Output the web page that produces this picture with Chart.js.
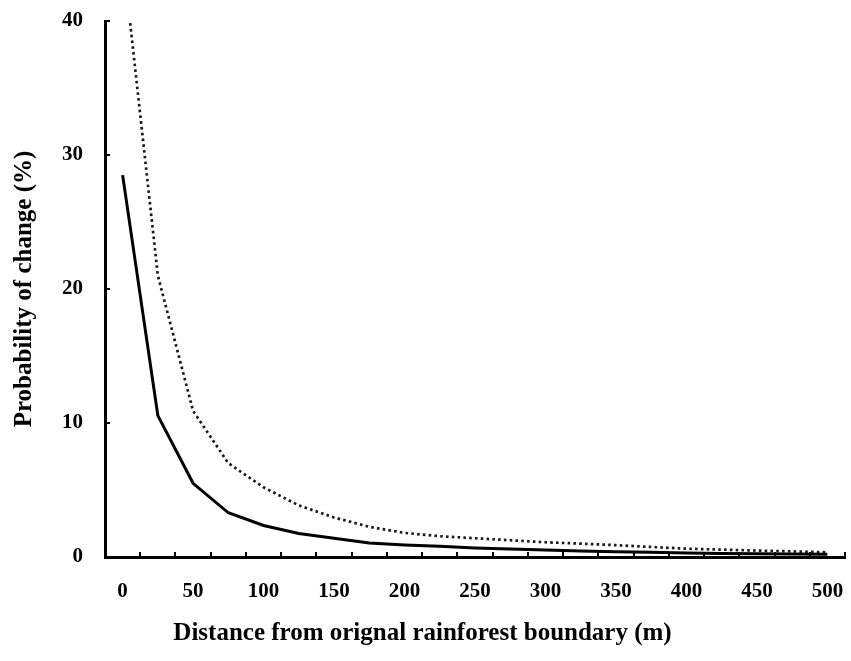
<!DOCTYPE html>
<html>
<head>
<meta charset="utf-8">
<script src="https://cdn.jsdelivr.net/npm/chart.js@4/dist/chart.umd.min.js"></script>
<style>
  html, body { margin: 0; padding: 0; background: #fff; }
  #wrap { width: 851px; height: 661px; }
</style>
</head>
<body>
<div id="wrap"><canvas id="c" width="851" height="661"></canvas></div>
<script>
const distances = [0, 25, 50, 75, 100, 125, 150, 175, 200, 225, 250, 275, 300, 325, 350, 375, 400, 425, 450, 475, 500];
const solidSeries = [28.5, 10.55, 5.5, 3.3, 2.35, 1.75, 1.4, 1.05, 0.9, 0.8, 0.68, 0.6, 0.52, 0.45, 0.4, 0.35, 0.3, 0.27, 0.24, 0.22, 0.2];
const dottedSeries = [45, 21, 10.9, 7.0, 5.2, 3.85, 2.95, 2.25, 1.8, 1.55, 1.4, 1.25, 1.1, 1.0, 0.88, 0.75, 0.62, 0.55, 0.48, 0.42, 0.35];
const yTicks = [0, 10, 20, 30, 40];
const xTitle = 'Distance from orignal rainforest boundary (m)';
const yTitle = 'Probability of change (%)';

const FONT = "'Liberation Serif', 'Times New Roman', serif";

function zeroPad(s) { s.paddingTop = 0; s.paddingBottom = 0; s.paddingLeft = 0; s.paddingRight = 0; }

new Chart(document.getElementById('c'), {
  type: 'line',
  data: {
    labels: distances,
    datasets: [
      { data: solidSeries, borderColor: '#000', borderWidth: 3, pointRadius: 0, tension: 0, fill: false },
      { data: dottedSeries, borderColor: '#1a1a1a', borderWidth: 2.7, borderDash: [2.6, 3.2], pointRadius: 0, tension: 0, fill: false }
    ]
  },
  options: {
    responsive: false,
    animation: false,
    events: [],
    layout: { padding: { top: 21, right: 6, left: 0, bottom: 0 } },
    plugins: {
      legend: { display: false },
      tooltip: { enabled: false },
      title: {
        display: true,
        position: 'bottom',
        text: xTitle,
        color: '#000',
        font: { family: FONT, size: 25, weight: 'bold' },
        padding: { top: 0, bottom: 12 }
      }
    },
    scales: {
      x: {
        type: 'category',
        offset: true,
        grid: { display: true, offset: true, drawOnChartArea: false, drawTicks: true, tickLength: -5, color: '#000', lineWidth: 2 },
        border: { display: true, color: '#000', width: 3 },
        ticks: {
          autoSkip: false, maxRotation: 0, color: '#000', padding: 27,
          font: { family: FONT, size: 21, weight: 'bold' },
          callback: function(v, i) { return i % 2 === 0 ? String(distances[i]) : ''; }
        },
        afterFit: function(s) { s.height = 661 - 42 - 557; zeroPad(s); }
      },
      y: {
        min: 0, max: 40,
        afterBuildTicks: function(s) { s.ticks = yTicks.map(v => ({ value: v })); },
        grid: { display: true, drawOnChartArea: false, drawTicks: true, tickLength: -5, color: '#000', lineWidth: 2 },
        border: { display: true, color: '#000', width: 3 },
        ticks: { color: '#000', padding: 27, font: { family: FONT, size: 21, weight: 'bold' } },
        title: {
          display: true, text: yTitle, color: '#000',
          font: { family: FONT, size: 25, weight: 'bold' },
          padding: { top: 10, bottom: 0 }
        },
        afterFit: function(s) { s.width = 105; zeroPad(s); }
      }
    }
  }
});
</script>
</body>
</html>
